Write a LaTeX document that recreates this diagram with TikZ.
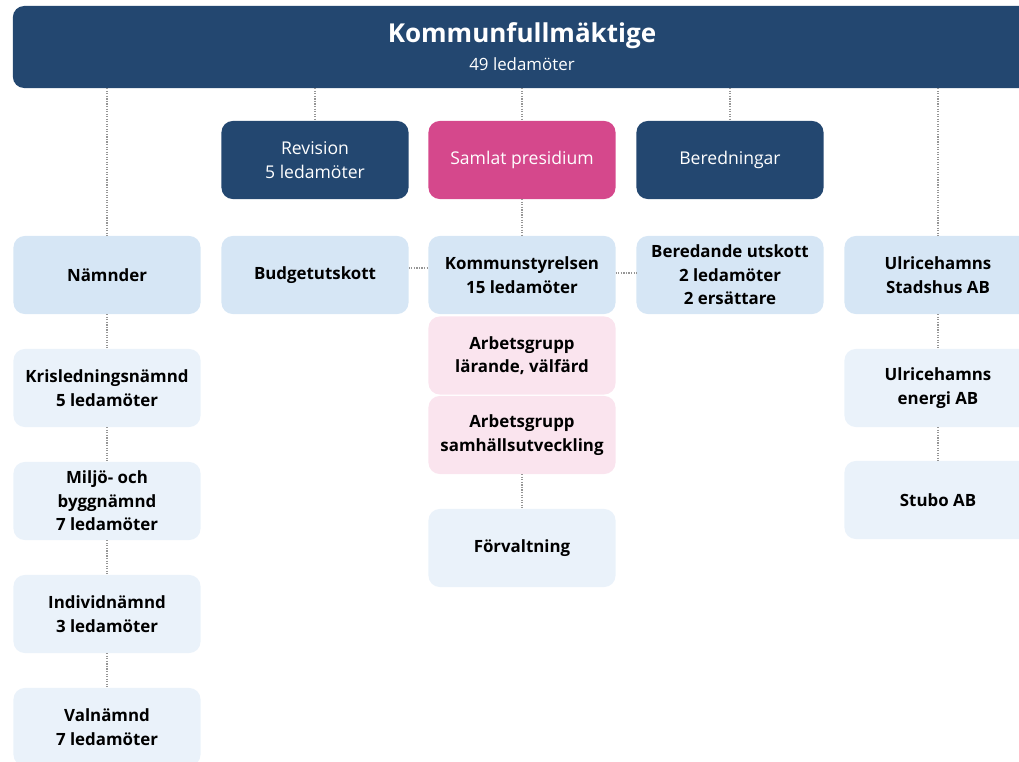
\documentclass[tikz,border=0pt]{standalone}
\usepackage{fontspec}
\setmainfont{Open Sans}
\usetikzlibrary{positioning}

\definecolor{navy}{RGB}{35,71,112}
\definecolor{rosa}{RGB}{213,72,140}
\definecolor{ljusbla}{RGB}{214,230,245}
\definecolor{blek}{RGB}{234,242,250}
\definecolor{ljusrosa}{RGB}{250,228,238}
\definecolor{prick}{RGB}{150,150,150}

\tikzset{
  box/.style={rectangle, rounded corners=8pt, minimum width=4.675cm, minimum height=1.95cm,
    align=center, font=\fontsize{12}{16.7}\selectfont\bfseries, inner sep=2pt},
  morkbox/.style={box, fill=navy, text=white, font=\fontsize{12.5}{17}\selectfont},
  rosabox/.style={box, fill=rosa, text=white, font=\fontsize{12.5}{17}\selectfont},
  blabox/.style={box, fill=ljusbla},
  blekbox/.style={box, fill=blek},
  arbbox/.style={box, fill=ljusrosa},
  lank/.style={draw=prick, densely dotted, line width=0.8pt}
}

\begin{document}
\begin{tikzpicture}[x=0.025cm, y=-0.025cm]
\useasboundingbox (0,0) rectangle (1019,762);
\clip (0,0) rectangle (1019,762);

% topp
\node (kf) at (522,47) [box, fill=navy, text=white, minimum width=25.45cm, minimum height=2.05cm,
  font=\fontsize{18.5}{20}\selectfont\bfseries] {Kommunfullmäktige\\{\fontsize{12}{14}\selectfont\mdseries 49 ledamöter}};

% rad 1
\node (rev) at (315,160) [morkbox] {Revision\\5 ledamöter};
\node (pres) at (522,160) [rosabox] {Samlat presidium};
\node (bern) at (730,160) [morkbox] {Beredningar};

% rad 2
\node (namnd) at (107,275) [blabox] {Nämnder};
\node (budget) at (315,275) [blabox] {Budgetutskott};
\node (ks) at (522,275) [blabox] {Kommunstyrelsen\\15 ledamöter};
\node (berut) at (730,275) [blabox] {Beredande utskott\\2 ledamöter\\2 ersättare};
\node (stad) at (938,275) [blabox] {Ulricehamns\\Stadshus AB};

% mitten
\node (ag1) at (522,355.5) [arbbox] {Arbetsgrupp\\lärande, välfärd};
\node (ag2) at (522,435) [arbbox] {Arbetsgrupp\\samhällsutveckling};
\node (forv) at (522,548) [blekbox] {Förvaltning};

% nämnder
\node (kris) at (107,388) [blekbox] {Krisledningsnämnd\\5 ledamöter};
\node (miljo) at (107,501) [blekbox] {Miljö- och\\byggnämnd\\7 ledamöter};
\node (indiv) at (107,614) [blekbox] {Individnämnd\\3 ledamöter};
\node (val) at (107,727) [blekbox] {Valnämnd\\7 ledamöter};

% bolag
\node (energi) at (938,388) [blekbox] {Ulricehamns\\energi AB};
\node (stubo) at (938,500) [blekbox] {Stubo AB};

% linjer
\draw [lank] (kf.south -| namnd) -- (namnd);
\draw [lank] (kf.south -| rev) -- (rev);
\draw [lank] (kf) -- (pres);
\draw [lank] (kf.south -| bern) -- (bern);
\draw [lank] (kf.south -| stad) -- (stad);
\draw [lank] (pres) -- (ks);
\draw [lank] (budget.east |- 0,268) -- (ks.west |- 0,268);
\draw [lank] (ks.east |- 0,273) -- (berut.west |- 0,273);
\draw [lank] (ag2) -- (forv);
\draw [lank] (namnd) -- (kris);
\draw [lank] (kris) -- (miljo);
\draw [lank] (miljo) -- (indiv);
\draw [lank] (indiv) -- (val);
\draw [lank] (stad) -- (energi);
\draw [lank] (energi) -- (stubo);
\end{tikzpicture}
\end{document}
